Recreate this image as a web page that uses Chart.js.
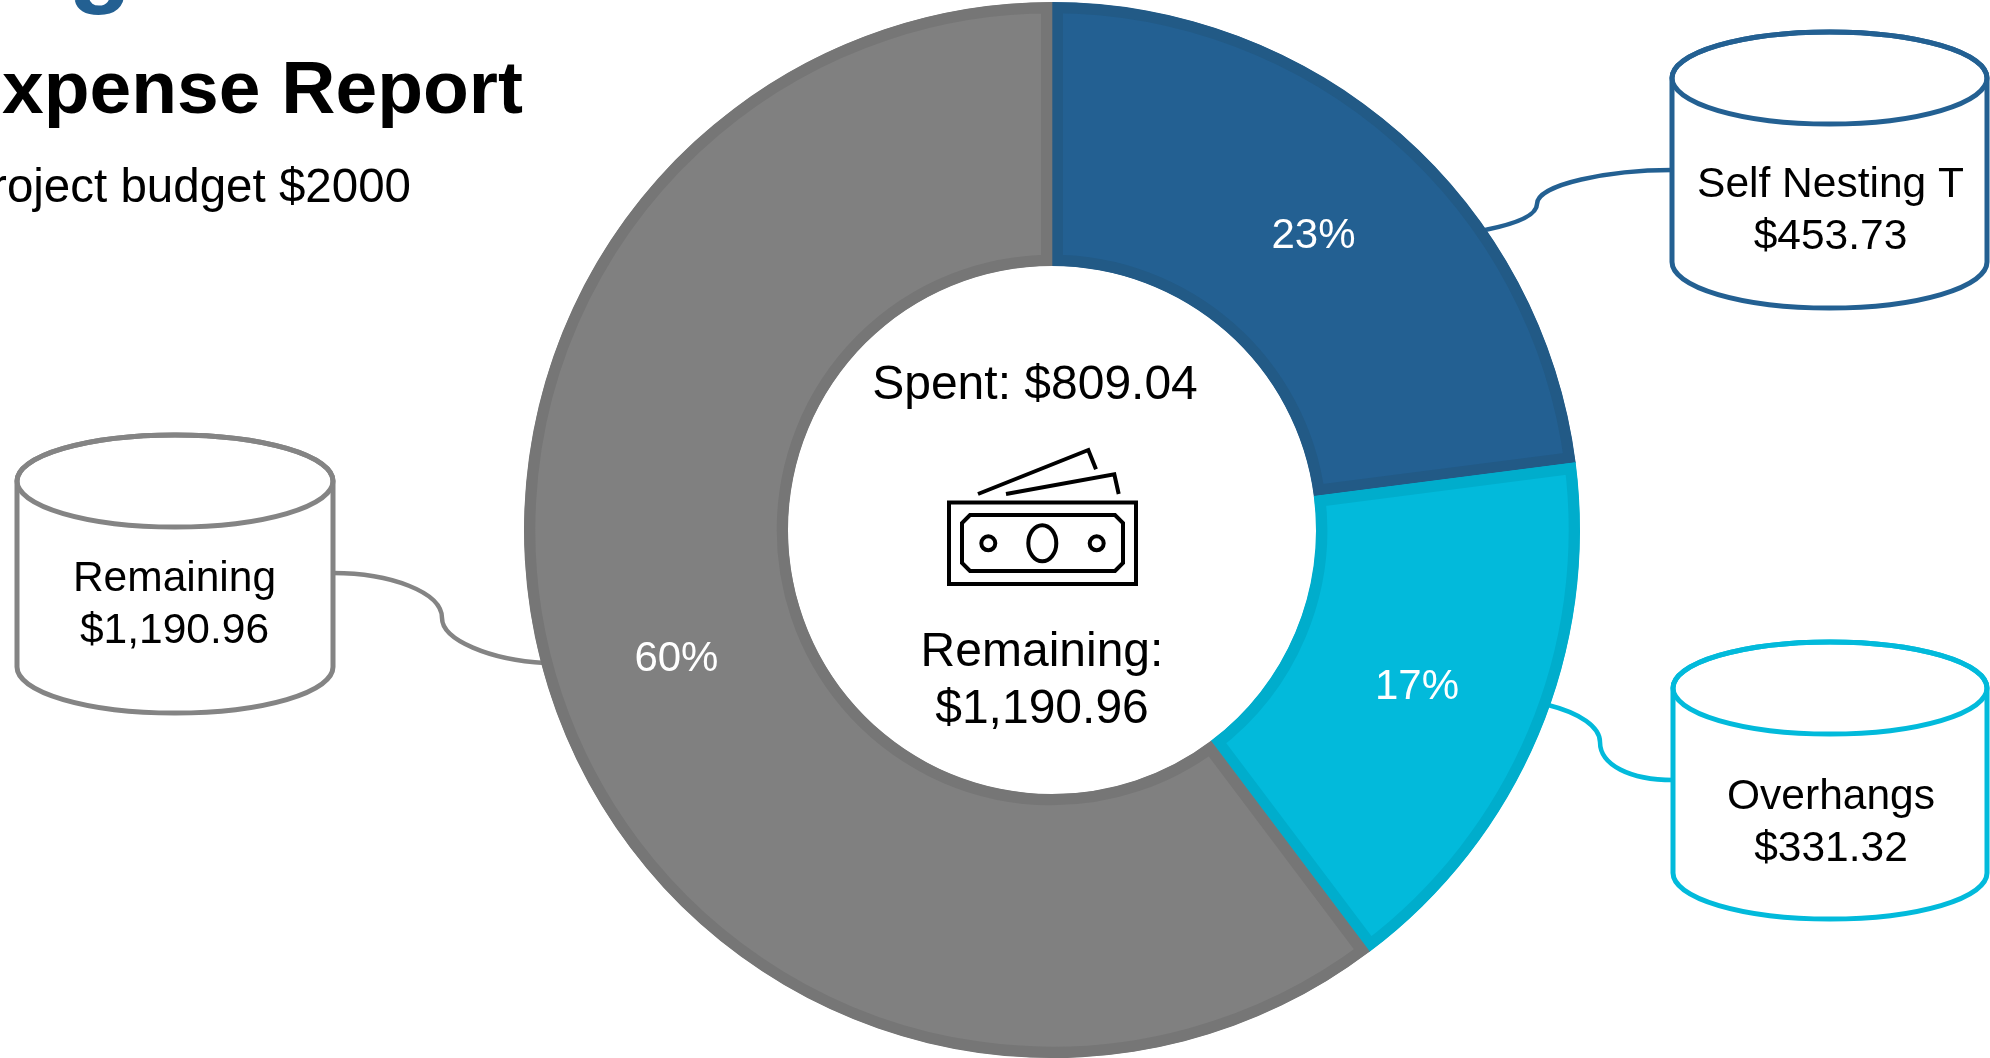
<!DOCTYPE html>
<html>
<head>
<meta charset="utf-8">
<title>Expense Report</title>
<script src="https://cdn.jsdelivr.net/npm/chart.js@4"></script>
<style>
    html, body { margin: 0; padding: 0; background: #fff; overflow: hidden; }
    canvas { display: block; }
</style>
</head>
<body>
<canvas id="expenseChart" width="1990" height="1058"></canvas>
<script>
// chart values
const categories = ["Self Nesting T", "Overhangs", "Remaining"];
const amounts = [453.73, 331.32, 1190.96];
const amountLabels = ["$453.73", "$331.32", "$1,190.96"];
const spentLabel = "Spent: $809.04";
const remainingLines = ["Remaining:", "$1,190.96"];

const fillColors = ["#236092", "#02BADB", "#808080"];
const edgeColors = ["#225A86", "#00ADCC", "#767676"];
const calloutColors = ["#236092", "#02BADB", "#848484"];
const fontFamily = '"Liberation Sans", Arial, sans-serif';

// cylinder boxes, same order as categories
const boxes = [
    { left: 1672, right: 1987, top: 32, bottom: 308, ry: 46, base: 197, textX: 1830.5, path: "M1672,170 C1610,170 1537,184 1537,204 C1537,216 1515,224 1485,230" },
    { left: 1673, right: 1987, top: 642, bottom: 919, ry: 46, base: 809, textX: 1831, path: "M1673,780 C1630,780 1600,765 1600,742 C1600,727 1580,713 1548,705" },
    { left: 17, right: 333, top: 435, bottom: 713, ry: 46, base: 591, textX: 174.5, path: "M333,573 C390,573 442,592 442,618 C442,640 490,660 545,663" }
];

function drawText(ctx, text, x, y, font, color, align) {
    ctx.font = font;
    ctx.fillStyle = color;
    ctx.textAlign = align || "center";
    ctx.textBaseline = "alphabetic";
    ctx.fillText(text, x, y);
}

function drawCylinder(ctx, box, color) {
    const cx = (box.left + box.right) / 2;
    const rx = (box.right - box.left) / 2;
    const topY = box.top + box.ry;
    const bottomY = box.bottom - box.ry;
    ctx.strokeStyle = color;
    ctx.lineWidth = 5;
    ctx.fillStyle = "#fff";
    ctx.beginPath();
    ctx.moveTo(box.left, topY);
    ctx.lineTo(box.left, bottomY);
    ctx.ellipse(cx, bottomY, rx, box.ry, 0, Math.PI, 0, true);
    ctx.lineTo(box.right, topY);
    ctx.ellipse(cx, topY, rx, box.ry, 0, 0, Math.PI, true);
    ctx.closePath();
    ctx.fill();
    ctx.stroke();
    ctx.beginPath();
    ctx.ellipse(cx, topY, rx, box.ry, 0, 0, Math.PI * 2);
    ctx.stroke();
}

function drawMoneyIcon(ctx) {
    ctx.strokeStyle = "#000";
    ctx.lineWidth = 4;
    ctx.lineJoin = "miter";
    ctx.strokeRect(949, 502.5, 187, 81.5);

    ctx.beginPath();
    ctx.moveTo(970, 515);
    ctx.lineTo(1115, 515);
    ctx.lineTo(1123, 523);
    ctx.lineTo(1123, 563);
    ctx.lineTo(1115, 571);
    ctx.lineTo(970, 571);
    ctx.lineTo(962, 563);
    ctx.lineTo(962, 523);
    ctx.closePath();
    ctx.stroke();

    ctx.beginPath();
    ctx.arc(988.3, 543.3, 7, 0, Math.PI * 2);
    ctx.stroke();
    ctx.beginPath();
    ctx.arc(1096.7, 543.3, 7, 0, Math.PI * 2);
    ctx.stroke();
    ctx.beginPath();
    ctx.ellipse(1042.3, 543.3, 14, 18, 0, 0, Math.PI * 2);
    ctx.stroke();

    // the two notes behind
    ctx.beginPath();
    ctx.moveTo(978, 494);
    ctx.lineTo(1088.3, 450);
    ctx.lineTo(1096, 469.3);
    ctx.stroke();
    ctx.beginPath();
    ctx.moveTo(1006, 494);
    ctx.lineTo(1114.3, 474.3);
    ctx.lineTo(1118.7, 494);
    ctx.stroke();
}

const calloutPlugin = {
    id: "callouts",
    beforeDatasetsDraw(chart) {
        const ctx = chart.ctx;
        ctx.save();
        boxes.forEach((box, i) => {
            ctx.strokeStyle = calloutColors[i];
            ctx.lineWidth = 4.5;
            ctx.stroke(new Path2D(box.path));
        });
        ctx.restore();
    },
    afterDatasetsDraw(chart) {
        const ctx = chart.ctx;
        const total = amounts.reduce((a, b) => a + b, 0);
        const arcs = chart.getDatasetMeta(0).data;
        ctx.save();

        // percent labels on the slices
        arcs.forEach((arc, i) => {
            const p = arc.getCenterPoint();
            drawText(ctx, Math.round(amounts[i] / total * 100) + "%", p.x, p.y + 15.5, "42px " + fontFamily, "#fff");
        });

        // cylinders with name and amount
        boxes.forEach((box, i) => {
            drawCylinder(ctx, box, calloutColors[i]);
            drawText(ctx, categories[i], box.textX, box.base, "42.5px " + fontFamily, "#000");
            drawText(ctx, amountLabels[i], box.textX, box.base + 51.5, "42.5px " + fontFamily, "#000");
        });

        // middle of the donut
        drawText(ctx, spentLabel, 1035, 399, "48px " + fontFamily, "#000");
        drawMoneyIcon(ctx);
        drawText(ctx, remainingLines[0], 1042, 666, "48px " + fontFamily, "#000");
        drawText(ctx, remainingLines[1], 1042, 723, "48px " + fontFamily, "#000");

        // page headings, cut off by the left edge
        drawText(ctx, "g", 100, -7, "bold 104px " + fontFamily, "#236092");
        drawText(ctx, "Expense Report", 523, 113, "bold 75px " + fontFamily, "#000", "right");
        drawText(ctx, "Project budget $2000", 411, 202, "47.5px " + fontFamily, "#000", "right");
        ctx.restore();
    }
};

new Chart(document.getElementById("expenseChart").getContext("2d"), {
    type: "doughnut",
    data: {
        labels: categories,
        datasets: [{
            data: amounts,
            backgroundColor: fillColors,
            borderColor: edgeColors,
            borderWidth: 11,
            borderAlign: "inner",
            borderJoinStyle: "miter"
        }]
    },
    options: {
        responsive: false,
        animation: false,
        cutout: "50%",
        layout: { padding: { left: 114, top: 2, right: 0, bottom: 0 } },
        plugins: {
            legend: { display: false },
            tooltip: { enabled: false }
        }
    },
    plugins: [calloutPlugin]
});
</script>
</body>
</html>
